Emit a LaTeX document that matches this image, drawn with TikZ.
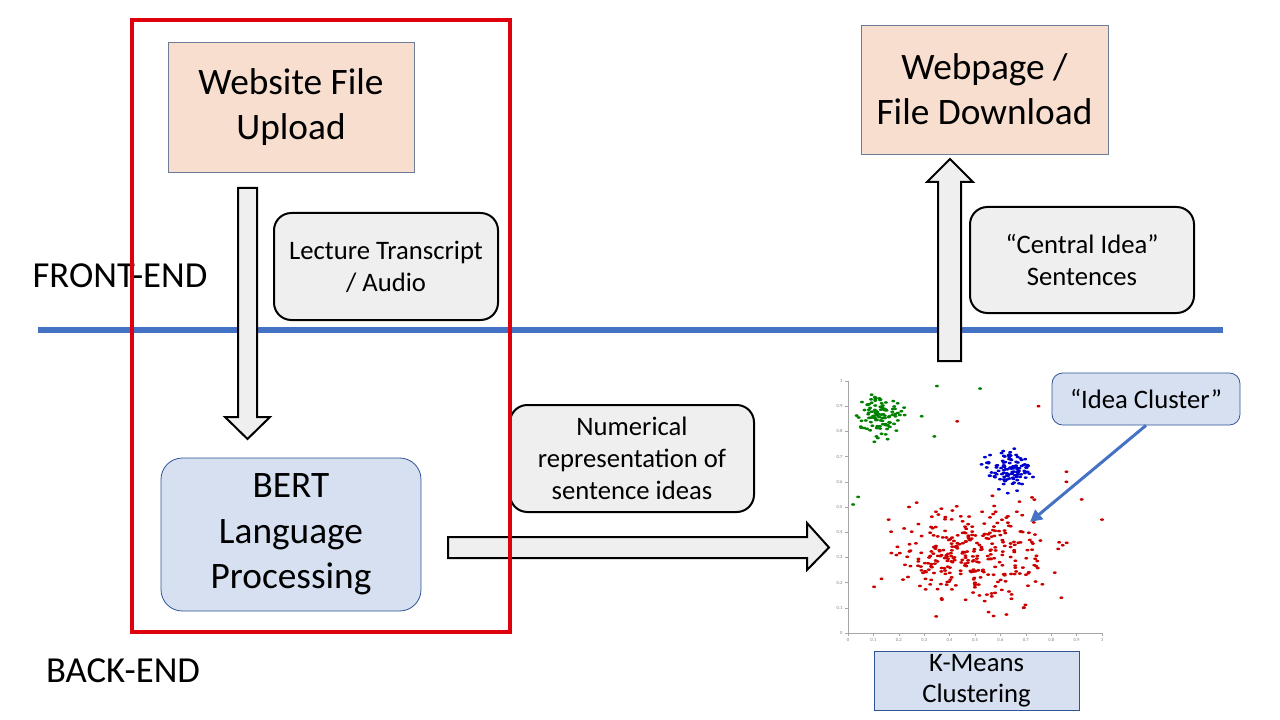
\documentclass[tikz,border=0pt]{standalone}
\usepackage{fontspec}
\setmainfont{Carlito}
\usetikzlibrary{arrows.meta}

\definecolor{peach}{RGB}{248,222,207}
\definecolor{paleblue}{RGB}{214,224,241}
\definecolor{palegray}{RGB}{239,239,239}
\definecolor{linegray}{RGB}{110,125,150}
\definecolor{deepblue}{RGB}{47,85,151}
\definecolor{splitblue}{RGB}{68,114,196}
\definecolor{framered}{RGB}{222,0,12}
\definecolor{dotred}{RGB}{205,0,0}
\definecolor{dotgreen}{RGB}{0,130,0}
\definecolor{dotblue}{RGB}{0,0,205}

\begin{document}
\begin{tikzpicture}[x=0.75pt,y=-0.75pt]
        \tikzstyle{pagebox}=[draw=linegray, line width=0.6pt, fill=peach, align=center, inner sep=0pt, font=\fontsize{28}{34}\selectfont]
        \tikzstyle{engine}=[draw=deepblue, line width=0.6pt, fill=paleblue, align=center, inner sep=0pt]
        \tikzstyle{datanote}=[draw=black, line width=1.5pt, fill=palegray, rounded corners=13pt, align=center, inner sep=0pt, font=\fontsize{20}{24}\selectfont]
        \tikzstyle{blockarrow}=[draw=black, line width=1.5pt, fill=palegray, line join=miter]
        \tikzstyle{sidelabel}=[font=\fontsize{27.5}{30}\selectfont, inner sep=0pt]
        \useasboundingbox (0,0) rectangle (1280,720);
        \fill[white] (0,0) rectangle (1280,720);

        % front-end / back-end split
        \node[sidelabel] (front) at (120,276) {FRONT-END};
        \node[sidelabel] (back) at (123,671) {BACK-END};
        \coordinate (splitL) at (38,330);
        \coordinate (splitR) at (1223,330);
        \draw[splitblue, line width=5pt] (splitL) -- (splitR);

        % block arrows
        \draw[blockarrow] (238,188) -- (257,188) -- (257,417) -- (270,417) -- (247.5,439) -- (225,417) -- (238,417) -- cycle;
        \draw[blockarrow] (448,537) -- (807,537) -- (807,523) -- (829,547.5) -- (807,570) -- (807,558) -- (448,558) -- cycle;
        \draw[blockarrow] (938,361) -- (938,182) -- (927,182) -- (950,159) -- (973,182) -- (961,182) -- (961,361) -- cycle;

        % boxes
        \node[pagebox, minimum width=184.5pt, minimum height=97.5pt] (upload) at (291,107) {Website File\\Upload};
        \node[pagebox, minimum width=185.25pt, minimum height=96.75pt] (download) at (984.5,89.5) {Webpage /\\File Download};
        \node[datanote, minimum width=168pt, minimum height=80.25pt] (transcript) at (386,266.5) {Lecture Transcript\\/ Audio};
        \node[datanote, minimum width=183pt, minimum height=80.25pt] (numeric) at (632,458.5) {Numerical\\representation of\\sentence ideas};
        \node[datanote, minimum width=168pt, minimum height=79.5pt] (central) at (1082,260) {``Central Idea''\\Sentences};
        \node[engine, rounded corners=16pt, minimum width=195pt, minimum height=114.75pt, font=\fontsize{28}{34}\selectfont] (bert) at (291,534.5) {BERT\\Language\\Processing};
        \node[engine, rounded corners=8pt, minimum width=141pt, minimum height=39pt, font=\fontsize{20}{24}\selectfont] (ideacluster) at (1146,399) {``Idea Cluster''};
        \node[engine, minimum width=153.75pt, minimum height=44.25pt, font=\fontsize{20}{23}\selectfont] (kmeans) at (976.5,680.5) {K-Means\\Clustering};

        % k-means scatter plot
        \begin{scope}[xshift=636pt, yshift=-474.75pt, x=190.5pt, y=189pt]
            \draw[gray!70, line width=0.4pt] (0,1) -- (0,0) -- (1,0);
            \foreach \t/\lab in {0/0,0.1/0.1,0.2/0.2,0.3/0.3,0.4/0.4,0.5/0.5,0.6/0.6,0.7/0.7,0.8/0.8,0.9/0.9,1/1} {
                \draw[gray!70, line width=0.3pt] (\t,0) -- ++(0,-2pt);
                \draw[gray!70, line width=0.3pt] (0,\t) -- ++(-2pt,0);
                \node[gray, font=\fontsize{3.5}{4}\selectfont, inner sep=0pt, below] at (\t,-4pt) {\lab};
                \node[gray, font=\fontsize{3.5}{4}\selectfont, inner sep=0pt, left] at (-4pt,\t) {\lab};
            }
            \pgfmathsetseed{4321}
            \foreach \i in {1,...,320} {
                \pgfmathsetmacro\px{0.5+0.14*(rand+rand+rand)}
                \pgfmathsetmacro\py{0.3+0.1*(rand+rand+rand)}
                \fill[dotred] (\px,\py) ellipse [x radius=1.5pt, y radius=1pt];
            }
            \foreach \i in {1,...,110} {
                \pgfmathsetmacro\px{0.13+0.042*(rand+rand+rand)}
                \pgfmathsetmacro\py{0.86+0.037*(rand+rand+rand)}
                \fill[dotgreen] (\px,\py) ellipse [x radius=1.5pt, y radius=1pt];
            }
            \foreach \i in {1,...,110} {
                \pgfmathsetmacro\px{0.635+0.045*(rand+rand+rand)}
                \pgfmathsetmacro\py{0.645+0.037*(rand+rand+rand)}
                \fill[dotblue] (\px,\py) ellipse [x radius=1.5pt, y radius=1pt];
            }
            \foreach \px/\py in {0.35/0.98,0.52/0.97,0.34/0.78,0.04/0.54,0.02/0.51,0.29/0.86,0.21/0.88}
                \fill[dotgreen] (\px,\py) ellipse [x radius=1.5pt, y radius=1pt];
            \foreach \px/\py in {0.75/0.9,0.43/0.84,0.86/0.64,0.86/0.6,0.92/0.53,1.0/0.45,0.84/0.14,0.16/0.45,0.24/0.5}
                \fill[dotred] (\px,\py) ellipse [x radius=1.5pt, y radius=1pt];
        \end{scope}

        % pointer to the cluster
        \coordinate (clusterpt) at (1030,522);
        \draw[splitblue, line width=2.25pt, -{Triangle[length=9pt, width=9pt]}] (ideacluster.south) -- (clusterpt);

        % back-end frame
        \draw[framered, line width=3pt] (132,20) rectangle (510,632);
\end{tikzpicture}
\end{document}
